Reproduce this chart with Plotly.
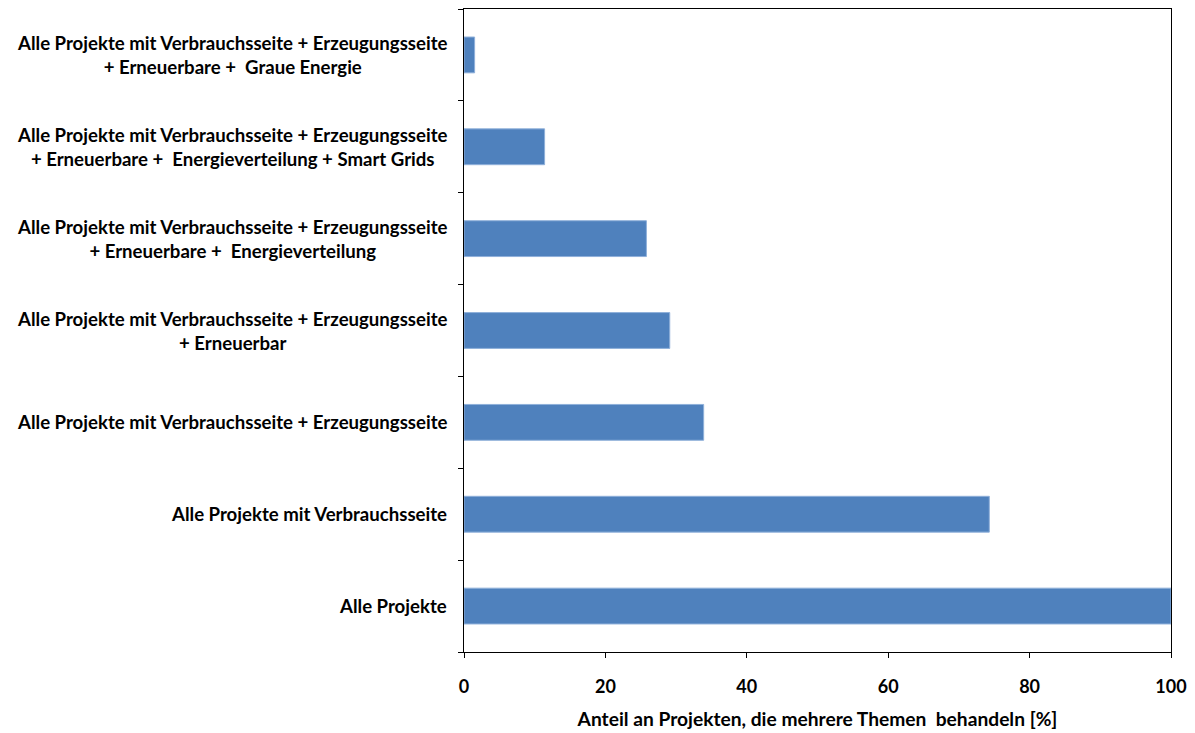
import plotly.graph_objects as go

categories = [
    "Alle Projekte",
    "Alle Projekte mit Verbrauchsseite",
    "Alle Projekte mit Verbrauchsseite + Erzeugungsseite",
    "Alle Projekte mit Verbrauchsseite + Erzeugungsseite<br>+ Erneuerbar",
    "Alle Projekte mit Verbrauchsseite + Erzeugungsseite<br>+ Erneuerbare +\u00a0\u00a0Energieverteilung",
    "Alle Projekte mit Verbrauchsseite + Erzeugungsseite<br>+ Erneuerbare +\u00a0\u00a0Energieverteilung + Smart Grids",
    "Alle Projekte mit Verbrauchsseite + Erzeugungsseite<br>+ Erneuerbare +\u00a0\u00a0Graue Energie",
]
values = [100, 74.3, 33.9, 29.1, 25.8, 11.4, 1.5]
x_ticks = [0, 20, 40, 60, 80, 100]
x_title = "Anteil an Projekten, die mehrere Themen\u00a0\u00a0behandeln [%]"

FONT = "Lato"
ids = list(range(len(categories)))

fig = go.Figure(go.Bar(
    x=values, y=ids, orientation="h",
    marker=dict(color="#4F81BD", line=dict(color="#8FB0DA", width=1)),
    width=0.39,
))

for i, lab in zip(ids, categories):
    fig.add_annotation(
        x=0, xref="paper", xanchor="right", xshift=-15,
        y=i, yref="y", yanchor="middle",
        text="<b>" + lab + "</b>", showarrow=False, align="center",
        font=dict(family=FONT, size=18.6, color="black"),
    )

fig.update_layout(
    width=1195, height=733,
    margin=dict(l=464, r=24, t=9, b=81),
    paper_bgcolor="white", plot_bgcolor="white",
    showlegend=False,
    font=dict(family=FONT, size=16, color="black"),
    xaxis=dict(
        range=[0, 100], tickvals=x_ticks, ticktext=[f"<b>{v}</b>" for v in x_ticks],
        ticks="outside", ticklen=5, tickcolor="black", tickwidth=1,
        ticklabelstandoff=13, automargin=False,
        showgrid=False, zeroline=False,
        showline=True, linecolor="black", linewidth=1, mirror=True,
        tickfont=dict(family=FONT, size=18, color="black"),
        title=dict(text="<b>" + x_title + "</b>", font=dict(family=FONT, size=19.2, color="black"), standoff=16),
    ),
    yaxis=dict(
        range=[-0.5, len(categories) - 0.5], automargin=False,
        tickvals=[i - 0.5 for i in range(len(categories) + 1)], ticktext=[""] * (len(categories) + 1),
        ticks="outside", ticklen=5, tickcolor="black", tickwidth=1,
        showgrid=False, zeroline=False,
        showline=True, linecolor="black", linewidth=1, mirror=True,
    ),
)

fig.write_html("out.html")
